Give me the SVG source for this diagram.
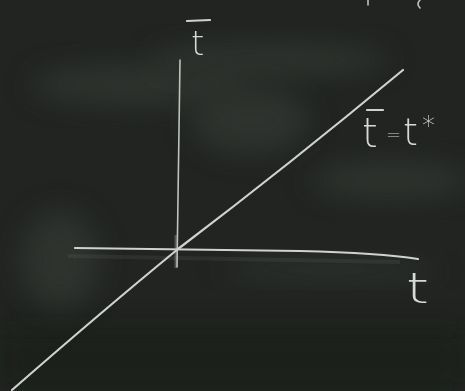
<svg xmlns="http://www.w3.org/2000/svg" width="465" height="391" viewBox="0 0 465 391">
  <defs>
    <filter id="blur" x="-50%" y="-50%" width="200%" height="200%">
      <feGaussianBlur stdDeviation="14"/>
    </filter>
    <filter id="soft" x="-20%" y="-20%" width="140%" height="140%">
      <feGaussianBlur stdDeviation="0.5"/>
    </filter>
    <style>
      .chalk { fill: none; stroke: #cfd2ce; stroke-width: 2.2; stroke-linecap: round; stroke-linejoin: round; }
      .thin { fill: none; stroke: #bfc2be; stroke-width: 1.6; stroke-linecap: round; }
      .lbl { font-family: "DejaVu Sans", "Liberation Sans", sans-serif; font-weight: 200; fill: #d6d9d5; }
      .smudge { fill: #3a3f3b; filter: url(#blur); }
    </style>
  </defs>

  <!-- chalkboard background -->
  <rect x="0" y="0" width="465" height="391" fill="#212421"/>
  <g opacity="0.55">
    <ellipse class="smudge" cx="140" cy="85" rx="110" ry="22"/>
    <ellipse class="smudge" cx="270" cy="60" rx="120" ry="18"/>
    <ellipse class="smudge" cx="60" cy="260" rx="40" ry="50"/>
    <ellipse class="smudge" cx="390" cy="180" rx="80" ry="20"/>
    <ellipse class="smudge" cx="250" cy="120" rx="60" ry="35"/>
    <ellipse class="smudge" cx="330" cy="270" rx="110" ry="10"/>
  </g>
  <rect x="0" y="330" width="465" height="61" fill="#181b18" opacity="0.5" filter="url(#blur)"/>

  <!-- connectors: axes and line -->
  <g id="connectors" filter="url(#soft)">
    <path id="t-axis" class="chalk" d="M75,248 L300,251 Q380,253 418,259"/>
    <path id="t-axis-smudge" d="M68,256 L400,262" stroke="#8a8d8a" stroke-width="4" opacity="0.12" fill="none"/>
    <path id="tbar-axis" class="thin" d="M180,60 L177,267"/>
    <path d="M176,235 L176,268" stroke="#aeb1ad" stroke-width="3" opacity="0.35" fill="none"/>
    <path id="diagonal" class="chalk" d="M12,390 Q100,313 178,249 Q290,164 403,70"/>
  </g>

  <!-- label nodes -->
  <g id="label-tbar">
    <line class="chalk" x1="187" y1="21" x2="210" y2="20"/>
    <text class="lbl" x="191" y="55" font-size="34">t</text>
  </g>

  <g id="label-equation">
    <line class="chalk" x1="367" y1="110" x2="383" y2="110"/>
    <text class="lbl" y="147"><tspan x="362" font-size="40">t</tspan><tspan x="386" font-size="18" dy="-6">=</tspan><tspan x="403" font-size="38" dy="4">t</tspan><tspan x="422" font-size="26" dy="-10">*</tspan></text>
  </g>

  <g id="label-t">
    <text class="lbl" x="406" y="303" font-size="42" transform="translate(406,0) scale(1.4,1) translate(-406,0)">t</text>
  </g>

  <!-- cut-off chalk fragments at top edge -->
  <g id="fragments" class="thin">
    <path d="M368,0 L368,5"/>
    <path d="M420,0 Q416,4 420,8"/>
  </g>
</svg>
